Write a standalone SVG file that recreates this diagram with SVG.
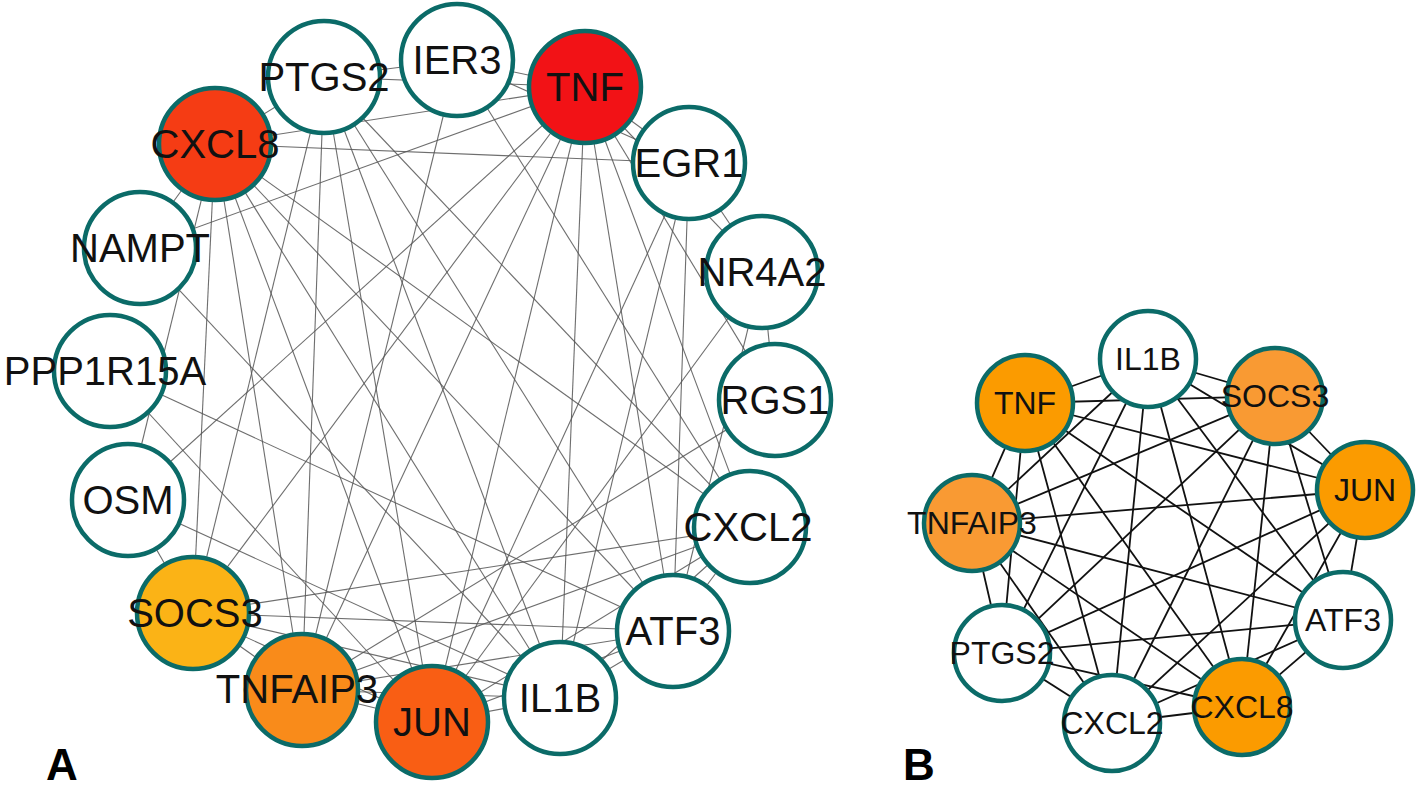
<svg xmlns="http://www.w3.org/2000/svg" width="1418" height="788" viewBox="0 0 1418 788">
<style>
.ea line{stroke:#555;stroke-width:1.1;opacity:0.85}
.eb line{stroke:#111;stroke-width:1.8}
.na circle{stroke:#0b6b68;stroke-width:4.5}
.nb circle{stroke:#0b6b68;stroke-width:4.5}
.ta{font-family:"Liberation Sans",Arial,sans-serif;font-size:40px;text-anchor:middle;fill:#111}
.tb{font-family:"Liberation Sans",Arial,sans-serif;font-size:32px;text-anchor:middle;fill:#111}
.lab{font-family:"Liberation Sans",Arial,sans-serif;font-size:44px;font-weight:bold;fill:#000}
</style>
<rect width="1418" height="788" fill="#fff"/>
<g id="edges-A" class="ea">
<line x1="585" y1="87" x2="457" y2="60"/>
<line x1="585" y1="87" x2="324" y2="77"/>
<line x1="585" y1="87" x2="215" y2="144"/>
<line x1="585" y1="87" x2="140" y2="248"/>
<line x1="585" y1="87" x2="689" y2="163"/>
<line x1="585" y1="87" x2="762" y2="272"/>
<line x1="585" y1="87" x2="775" y2="400"/>
<line x1="585" y1="87" x2="750" y2="527"/>
<line x1="585" y1="87" x2="673" y2="631"/>
<line x1="585" y1="87" x2="560" y2="698"/>
<line x1="585" y1="87" x2="432" y2="722"/>
<line x1="585" y1="87" x2="302" y2="690"/>
<line x1="585" y1="87" x2="193" y2="613"/>
<line x1="585" y1="87" x2="128" y2="500"/>
<line x1="215" y1="144" x2="324" y2="77"/>
<line x1="215" y1="144" x2="689" y2="163"/>
<line x1="215" y1="144" x2="140" y2="248"/>
<line x1="215" y1="144" x2="128" y2="500"/>
<line x1="215" y1="144" x2="193" y2="613"/>
<line x1="215" y1="144" x2="302" y2="690"/>
<line x1="215" y1="144" x2="432" y2="722"/>
<line x1="215" y1="144" x2="560" y2="698"/>
<line x1="215" y1="144" x2="673" y2="631"/>
<line x1="215" y1="144" x2="750" y2="527"/>
<line x1="324" y1="77" x2="457" y2="60"/>
<line x1="324" y1="77" x2="193" y2="613"/>
<line x1="324" y1="77" x2="302" y2="690"/>
<line x1="324" y1="77" x2="432" y2="722"/>
<line x1="324" y1="77" x2="560" y2="698"/>
<line x1="324" y1="77" x2="673" y2="631"/>
<line x1="324" y1="77" x2="750" y2="527"/>
<line x1="457" y1="60" x2="689" y2="163"/>
<line x1="457" y1="60" x2="750" y2="527"/>
<line x1="457" y1="60" x2="302" y2="690"/>
<line x1="689" y1="163" x2="762" y2="272"/>
<line x1="689" y1="163" x2="673" y2="631"/>
<line x1="689" y1="163" x2="560" y2="698"/>
<line x1="689" y1="163" x2="432" y2="722"/>
<line x1="762" y1="272" x2="775" y2="400"/>
<line x1="762" y1="272" x2="673" y2="631"/>
<line x1="762" y1="272" x2="432" y2="722"/>
<line x1="775" y1="400" x2="302" y2="690"/>
<line x1="750" y1="527" x2="193" y2="613"/>
<line x1="750" y1="527" x2="302" y2="690"/>
<line x1="750" y1="527" x2="432" y2="722"/>
<line x1="750" y1="527" x2="560" y2="698"/>
<line x1="750" y1="527" x2="673" y2="631"/>
<line x1="673" y1="631" x2="193" y2="613"/>
<line x1="673" y1="631" x2="110" y2="371"/>
<line x1="673" y1="631" x2="432" y2="722"/>
<line x1="673" y1="631" x2="560" y2="698"/>
<line x1="673" y1="631" x2="302" y2="690"/>
<line x1="560" y1="698" x2="140" y2="248"/>
<line x1="560" y1="698" x2="128" y2="500"/>
<line x1="560" y1="698" x2="193" y2="613"/>
<line x1="560" y1="698" x2="432" y2="722"/>
<line x1="560" y1="698" x2="302" y2="690"/>
<line x1="432" y1="722" x2="110" y2="371"/>
<line x1="432" y1="722" x2="193" y2="613"/>
<line x1="432" y1="722" x2="302" y2="690"/>
<line x1="193" y1="613" x2="128" y2="500"/>
<line x1="193" y1="613" x2="302" y2="690"/>
</g>
<g id="edges-B" class="eb">
<line x1="1148" y1="359" x2="1025" y2="403"/>
<line x1="1148" y1="359" x2="1275" y2="396"/>
<line x1="1148" y1="359" x2="1365" y2="490"/>
<line x1="1148" y1="359" x2="972" y2="523"/>
<line x1="1148" y1="359" x2="1343" y2="620"/>
<line x1="1148" y1="359" x2="1002" y2="653"/>
<line x1="1148" y1="359" x2="1112" y2="723"/>
<line x1="1148" y1="359" x2="1242" y2="707"/>
<line x1="1025" y1="403" x2="1275" y2="396"/>
<line x1="1025" y1="403" x2="1365" y2="490"/>
<line x1="1025" y1="403" x2="972" y2="523"/>
<line x1="1025" y1="403" x2="1343" y2="620"/>
<line x1="1025" y1="403" x2="1002" y2="653"/>
<line x1="1025" y1="403" x2="1112" y2="723"/>
<line x1="1025" y1="403" x2="1242" y2="707"/>
<line x1="1275" y1="396" x2="1365" y2="490"/>
<line x1="1275" y1="396" x2="972" y2="523"/>
<line x1="1275" y1="396" x2="1343" y2="620"/>
<line x1="1275" y1="396" x2="1002" y2="653"/>
<line x1="1275" y1="396" x2="1112" y2="723"/>
<line x1="1275" y1="396" x2="1242" y2="707"/>
<line x1="1365" y1="490" x2="972" y2="523"/>
<line x1="1365" y1="490" x2="1343" y2="620"/>
<line x1="1365" y1="490" x2="1002" y2="653"/>
<line x1="1365" y1="490" x2="1112" y2="723"/>
<line x1="1365" y1="490" x2="1242" y2="707"/>
<line x1="972" y1="523" x2="1343" y2="620"/>
<line x1="972" y1="523" x2="1002" y2="653"/>
<line x1="972" y1="523" x2="1112" y2="723"/>
<line x1="972" y1="523" x2="1242" y2="707"/>
<line x1="1343" y1="620" x2="1002" y2="653"/>
<line x1="1343" y1="620" x2="1112" y2="723"/>
<line x1="1343" y1="620" x2="1242" y2="707"/>
<line x1="1002" y1="653" x2="1112" y2="723"/>
<line x1="1002" y1="653" x2="1242" y2="707"/>
<line x1="1112" y1="723" x2="1242" y2="707"/>
</g>
<g class="na">
<g id="a-IER3"><circle cx="457" cy="60" r="56" fill="#fff"/><text class="ta" x="457" y="74">IER3</text></g>
<g id="a-TNF"><circle cx="585" cy="87" r="56" fill="#f21216"/><text class="ta" x="585" y="101">TNF</text></g>
<g id="a-PTGS2"><circle cx="324" cy="77" r="56" fill="#fff"/><text class="ta" x="324" y="91">PTGS2</text></g>
<g id="a-EGR1"><circle cx="689" cy="163" r="56" fill="#fff"/><text class="ta" x="689" y="177">EGR1</text></g>
<g id="a-CXCL8"><circle cx="215" cy="144" r="56" fill="#f53c14"/><text class="ta" x="215" y="158">CXCL8</text></g>
<g id="a-NAMPT"><circle cx="140" cy="248" r="56" fill="#fff"/><text class="ta" x="140" y="262">NAMPT</text></g>
<g id="a-NR4A2"><circle cx="762" cy="272" r="56" fill="#fff"/><text class="ta" x="762" y="286">NR4A2</text></g>
<g id="a-PPP1R15A"><circle cx="110" cy="371" r="56" fill="#fff"/><text class="ta" x="105" y="385">PPP1R15A</text></g>
<g id="a-RGS1"><circle cx="775" cy="400" r="56" fill="#fff"/><text class="ta" x="775" y="414">RGS1</text></g>
<g id="a-OSM"><circle cx="128" cy="500" r="56" fill="#fff"/><text class="ta" x="128" y="514">OSM</text></g>
<g id="a-CXCL2"><circle cx="750" cy="527" r="56" fill="#fff"/><text class="ta" x="748" y="541">CXCL2</text></g>
<g id="a-SOCS3"><circle cx="193" cy="613" r="56" fill="#fbb316"/><text class="ta" x="195" y="627">SOCS3</text></g>
<g id="a-ATF3"><circle cx="673" cy="631" r="56" fill="#fff"/><text class="ta" x="673" y="645">ATF3</text></g>
<g id="a-TNFAIP3"><circle cx="302" cy="690" r="56" fill="#f98b1a"/><text class="ta" x="297" y="703">TNFAIP3</text></g>
<g id="a-IL1B"><circle cx="560" cy="698" r="56" fill="#fff"/><text class="ta" x="560" y="712">IL1B</text></g>
<g id="a-JUN"><circle cx="432" cy="722" r="56" fill="#f95e14"/><text class="ta" x="432" y="736">JUN</text></g>
</g>
<g class="nb">
<g id="b-IL1B"><circle cx="1148" cy="359" r="48" fill="#fff"/><text class="tb" x="1148" y="370">IL1B</text></g>
<g id="b-TNF"><circle cx="1025" cy="403" r="48" fill="#fb9b00"/><text class="tb" x="1025" y="414">TNF</text></g>
<g id="b-SOCS3"><circle cx="1275" cy="396" r="48" fill="#f99a33"/><text class="tb" x="1275" y="407">SOCS3</text></g>
<g id="b-JUN"><circle cx="1365" cy="490" r="48" fill="#fb9b00"/><text class="tb" x="1365" y="501">JUN</text></g>
<g id="b-TNFAIP3"><circle cx="972" cy="523" r="48" fill="#f99a33"/><text class="tb" x="972" y="534">TNFAIP3</text></g>
<g id="b-ATF3"><circle cx="1343" cy="620" r="48" fill="#fff"/><text class="tb" x="1343" y="631">ATF3</text></g>
<g id="b-PTGS2"><circle cx="1002" cy="653" r="48" fill="#fff"/><text class="tb" x="1002" y="664">PTGS2</text></g>
<g id="b-CXCL2"><circle cx="1112" cy="723" r="48" fill="#fff"/><text class="tb" x="1112" y="734">CXCL2</text></g>
<g id="b-CXCL8"><circle cx="1242" cy="707" r="48" fill="#fb9b00"/><text class="tb" x="1242" y="718">CXCL8</text></g>
</g>
<text class="lab" x="46" y="780">A</text>
<text class="lab" x="903" y="780">B</text>
</svg>
